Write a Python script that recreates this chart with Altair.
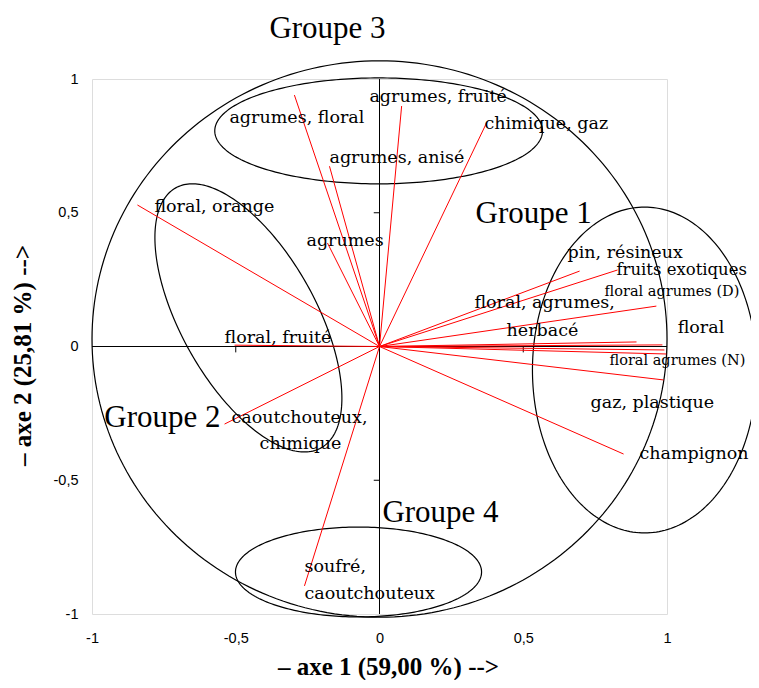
import numpy as np
import pandas as pd
import altair as alt

# ---- variables (correlations with axes 1 and 2) ----
var_names = ["agrumes, floral", "agrumes, anisé", "agrumes", "agrumes, fruité", "chimique, gaz",
             "floral, orange", "floral, fruité", "caoutchouteux, chimique", "soufré, caoutchouteux",
             "champignon", "gaz, plastique", "floral agrumes (N)", "floral agrumes (N) bis", "floral",
             "floral, agrumes, herbacé", "floral agrumes (D)", "fruits exotiques", "pin, résineux"]
axe1 = [-0.296, -0.174, -0.181, 0.077, 0.372, -0.842, -0.504, -0.539, -0.261,
        0.849, 0.988, 0.998, 0.991, 0.984, 0.894, 0.963, 0.828, 0.696]
axe2 = [0.940, 0.674, 0.387, 0.899, 0.835, 0.529, 0.005, -0.290, -0.895,
        -0.402, -0.125, -0.028, -0.013, 0.006, 0.017, 0.151, 0.286, 0.282]

# ---- variable labels (one entry per text line) ----
label_text = ["agrumes, fruité", "chimique, gaz", "agrumes, floral", "agrumes, anisé", "floral, orange",
              "agrumes", "pin, résineux", "fruits exotiques", "floral agrumes (D)", "floral, agrumes,",
              "herbacé", "floral", "floral agrumes (N)", "gaz, plastique", "champignon", "floral, fruité",
              "caoutchouteux,", "chimique", "soufré,", "caoutchouteux"]
label_x = [-0.035, 0.365, -0.522, -0.174, -0.783, -0.254, 0.654, 0.824, 0.783, 0.330,
           0.442, 1.037, 0.800, 0.734, 0.904, -0.539, -0.515, -0.417, -0.261, -0.261]
label_y = [0.933, 0.832, 0.854, 0.705, 0.521, 0.394, 0.350, 0.286, 0.204, 0.162,
           0.058, 0.069, -0.054, -0.211, -0.402, 0.032, -0.267, -0.364, -0.824, -0.925]
small_labels = ["floral agrumes (D)", "floral agrumes (N)"]
edge_labels = ["fruits exotiques"]

# ---- groups ----
group_names = ["Groupe 1", "Groupe 2", "Groupe 3", "Groupe 4"]
group_label_x = [0.334, -0.957, -0.383, 0.010]
group_label_y = [0.495, -0.267, 1.186, -0.622]

# outlines: correlation circle + the four group ellipses
shape_names = ["cercle", "Groupe 1", "Groupe 2", "Groupe 3", "Groupe 4"]
shape_cx = [0.000, 0.922, -0.456, -0.003, -0.073]
shape_cy = [0.028, -0.088, 0.107, 0.806, -0.843]
shape_rx = [1.000, 0.390, 0.518, 0.570, 0.428]
shape_ry = [1.040, 0.609, 0.252, 0.198, 0.168]
shape_angle = [0.0, 0.0, -60.8, 0.0, 0.0]

tick_values = [-1, -0.5, 0, 0.5, 1]
inner_ticks = [-0.5, 0.5]

W, H = 575, 535
SX, SY = W / 2, H / 2


def ellipse(name, cx, cy, rx, ry, ang, n=240):
    t = np.linspace(0, 2 * np.pi, n + 1)
    a, b = rx * SX, ry * SY
    p = np.radians(ang)
    px = a * np.cos(t) * np.cos(p) - b * np.sin(t) * np.sin(p)
    py = a * np.cos(t) * np.sin(p) + b * np.sin(t) * np.cos(p)
    return pd.DataFrame({"shape": name, "i": np.arange(n + 1), "x": cx + px / SX, "y": cy + py / SY})


shapes = pd.concat([ellipse(*args) for args in zip(shape_names, shape_cx, shape_cy,
                                                  shape_rx, shape_ry, shape_angle)])
vectors = pd.DataFrame({"name": var_names, "axe1": axe1, "axe2": axe2})
labels = pd.DataFrame({"text": label_text, "x": label_x, "y": label_y})
labels["kind"] = np.where(labels["text"].isin(small_labels), "small",
                          np.where(labels["text"].isin(edge_labels), "edge", "normal"))
groups = pd.DataFrame({"text": group_names, "x": group_label_x, "y": group_label_y})
axes_df = pd.DataFrame({"x": [-1, 0], "x2": [1, 0], "y": [0, -1], "y2": [0, 1]})
hticks = pd.DataFrame({"x": inner_ticks})
vticks = pd.DataFrame({"y": inner_ticks})

sc = alt.Scale(domain=[-1, 1], nice=False, zero=False)
lab_expr = "(datum.value < 0 ? '-' : '') + replace(toString(abs(datum.value)), '.', ',')"

x_axis = alt.Axis(values=tick_values, labelExpr=lab_expr, domain=False, ticks=False, tickSize=0,
                  grid=False, labelFont="Liberation Sans", labelFontSize=14.5, labelColor="black",
                  labelPadding=17, labelFlush=False, labelOverlap=False,
                  title="– axe 1 (59,00 %) -->", titleFont="Liberation Serif", titleFontSize=25,
                  titleFontWeight="bold", titleColor="black", titleX=296, titleY=52,
                  titleBaseline="middle", titleAlign="center")
y_axis = alt.Axis(values=tick_values, labelExpr=lab_expr, domain=False, ticks=False, tickSize=0,
                  grid=False, labelFont="Liberation Sans", labelFontSize=14.5, labelColor="black",
                  labelPadding=14, labelFlush=False, labelOverlap=False,
                  title="– axe 2 (25,81 %) -->", titleFont="Liberation Serif", titleFontSize=25,
                  titleFontWeight="bold", titleColor="black", titleX=-70, titleY=276,
                  titleAngle=270, titleBaseline="middle", titleAlign="center")


def X(field):
    return alt.X(field, scale=sc, axis=x_axis)


def Y(field):
    return alt.Y(field, scale=sc, axis=y_axis)


outline = alt.Chart(shapes).mark_line(color="black", strokeWidth=1.2).encode(
    x=X("x:Q"), y=Y("y:Q"), detail="shape:N", order="i:Q",
)

axis_lines = alt.Chart(axes_df).mark_rule(color="black", strokeWidth=1).encode(
    x=X("x:Q"), x2="x2:Q", y=Y("y:Q"), y2="y2:Q",
)

h_ticks = alt.Chart(hticks).transform_calculate(y0="0", y1="-0.022").mark_rule(
    color="black", strokeWidth=1).encode(x=X("x:Q"), y=Y("y0:Q"), y2="y1:Q")
v_ticks = alt.Chart(vticks).transform_calculate(x0="0", x1="-0.02").mark_rule(
    color="black", strokeWidth=1).encode(y=Y("y:Q"), x=X("x0:Q"), x2="x1:Q")

rays = alt.Chart(vectors).transform_calculate(ox="0", oy="0").mark_rule(
    color="#ff0000", strokeWidth=1).encode(x=X("ox:Q"), x2="axe1:Q", y=Y("oy:Q"), y2="axe2:Q")


def text_layer(kind, size):
    return alt.Chart(labels).transform_filter(f"datum.kind == '{kind}'").mark_text(
        align="left", baseline="middle", font="DejaVu Serif", fontSize=size, color="black").encode(
        x=X("x:Q"), y=Y("y:Q"), text="text:N")


group_text = alt.Chart(groups).mark_text(align="left", baseline="middle", font="Liberation Serif",
                                         fontSize=31, color="black").encode(
    x=X("x:Q"), y=Y("y:Q"), text="text:N")

chart = alt.layer(outline, axis_lines, h_ticks, v_ticks, rays,
                  text_layer("normal", 17.5), text_layer("small", 14.5), text_layer("edge", 16.5),
                  group_text).properties(
    width=W, height=H,
    padding={"left": 84, "top": 71, "right": 84, "bottom": 66},
    autosize=alt.AutoSizeParams(type="none"),
).configure_view(stroke="#9a9a9a", strokeWidth=1).configure(background="white")

chart.save("out.html", embed_options={"renderer": "svg", "actions": False})
